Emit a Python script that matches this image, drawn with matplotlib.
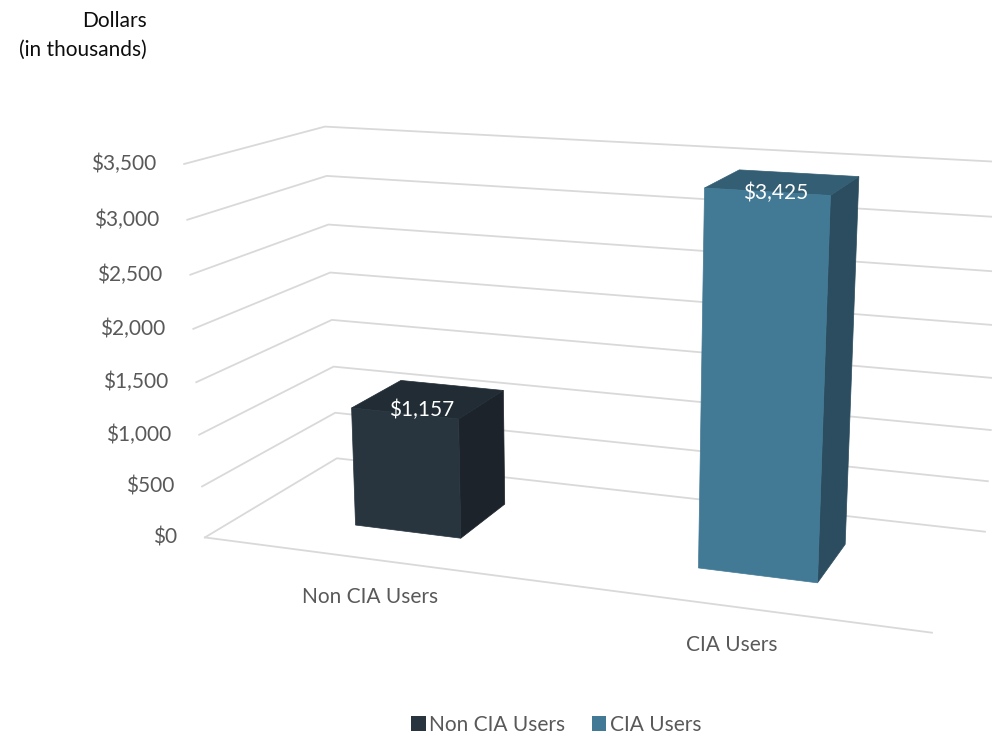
import numpy as np
import matplotlib.pyplot as plt
from matplotlib.patches import Polygon, Patch

plt.rcParams['font.family'] = ['Lato', 'DejaVu Sans']

categories = ["Non CIA Users", "CIA Users"]
values = [1157, 3425]
value_labels = ["$1,157", "$3,425"]
ticks = [0, 500, 1000, 1500, 2000, 2500, 3000, 3500]
tick_labels = ["$0", "$500", "$1,000", "$1,500", "$2,000", "$2,500", "$3,000", "$3,500"]

front_colors = ["#28353f", "#427a96"]
top_colors = ["#212c35", "#335e73"]
side_colors = ["#1c232a", "#2b4d5f"]

zmax = 3500
bar_width = 0.32
depth_front, depth_back = 0.3, 0.7

# 3D box: x = category slots (0..2), y = depth (0 front, 1 back), z = value.
# Canvas pixels where the corners of the box end up, used to solve the camera.
box_world = np.array([
    [0, 0, 0], [2, 0, 0], [2, 1, 0], [0, 1, 0],
    [0, 0, 3500], [0, 1, 3500], [2, 1, 1000],
    [0, 0, 1500], [0, 1, 1500],
], dtype=float)
box_px = np.array([
    [205, 537.3], [932, 632.7], [985, 531.7], [337, 458.3],
    [184.3, 164], [325, 126.5], [990.7, 430],
    [196, 382.3], [331.7, 320],
])
cx, cy, s = 496.0, 368.0, 500.0


def fit_camera(world, px):
    w = world.copy()
    w[:, 2] /= zmax
    p = (px - [cx, cy]) / s
    rows = []
    for (X, Y, Z), (u, v) in zip(w, p):
        rows.append([X, Y, Z, 1, 0, 0, 0, 0, -u * X, -u * Y, -u * Z, -u])
        rows.append([0, 0, 0, 0, X, Y, Z, 1, -v * X, -v * Y, -v * Z, -v])
    _, _, vt = np.linalg.svd(np.array(rows))
    return vt[-1].reshape(3, 4)


P = fit_camera(box_world, box_px)


def proj(x, y, z):
    h = P @ np.array([x, y, z / zmax, 1.0])
    return h[0] / h[2] * s + cx, h[1] / h[2] * s + cy


fig = plt.figure(figsize=(9.92, 7.36), dpi=100)
ax = fig.add_axes([0, 0, 1, 1])
ax.set_xlim(0, 992)
ax.set_ylim(736, 0)
ax.axis('off')

grid_c = '#d9d9d9'
# gridlines on the side wall and back wall
for t, lab in zip(ticks, tick_labels):
    pts = np.array([proj(0, 0, t), proj(0, 1, t), proj(2, 1, t)])
    ax.plot(pts[:, 0], pts[:, 1], color=grid_c, lw=1.3, zorder=1)
    x, y = proj(0, 0, t)
    ax.text(x - 28, y, lab, ha='right', va='center', fontsize=15, color='#595959')

# category axis along the front of the floor
pts = np.array([proj(0, 0, 0), proj(2, 0, 0)])
ax.plot(pts[:, 0], pts[:, 1], color=grid_c, lw=1.3, zorder=1)

for i, (cat, v) in enumerate(zip(categories, values)):
    c = i + 0.5
    x0, x1 = c - bar_width / 2, c + bar_width / 2
    d0, d1 = depth_front, depth_back
    front = [proj(x0, d0, 0), proj(x1, d0, 0), proj(x1, d0, v), proj(x0, d0, v)]
    side = [proj(x1, d0, 0), proj(x1, d1, 0), proj(x1, d1, v), proj(x1, d0, v)]
    top = [proj(x0, d0, v), proj(x1, d0, v), proj(x1, d1, v), proj(x0, d1, v)]
    for poly, col in ((side, side_colors[i]), (top, top_colors[i]), (front, front_colors[i])):
        ax.add_patch(Polygon(poly, closed=True, facecolor=col, edgecolor=col,
                             lw=0.5, zorder=2))
    lx, ly = proj(c, (d0 + d1) / 2, v)
    ax.text(lx - 7, ly + 11, value_labels[i], ha='center', va='center',
            fontsize=15, color='white', zorder=3)
    gx, gy = proj(c, 0, 0)
    ax.text(gx, gy + 38, cat, ha='center', va='center', fontsize=15, color='#595959')

ax.text(147, 21, "Dollars", ha='right', va='center', fontsize=15, color='#0d0d0d')
ax.text(147, 50, "(in thousands)", ha='right', va='center', fontsize=15, color='#0d0d0d')

handles = [Patch(facecolor=front_colors[0], edgecolor='none'),
           Patch(facecolor=front_colors[1], edgecolor='none')]
fig.legend(handles, categories, loc='center', bbox_to_anchor=(556 / 992, 1 - 725 / 736),
           ncol=2, frameon=False, fontsize=15, handlelength=0.7, handleheight=0.7,
           handletextpad=0.15, columnspacing=1.3, labelcolor='#595959')

fig.savefig('out.png', dpi=100)
